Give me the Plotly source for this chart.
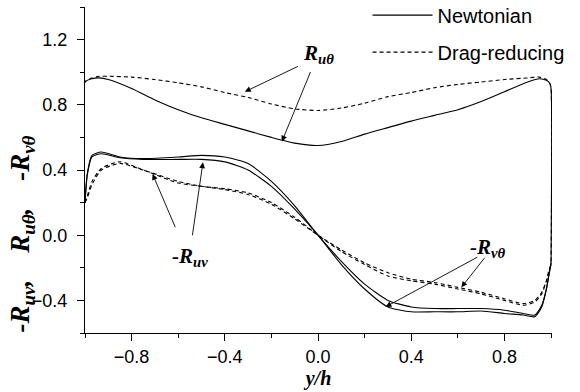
import plotly.graph_objects as go

# ---- data ----
x_low = [-1.0, -0.99, -0.97, -0.93, -0.85, -0.75, -0.6, -0.5, -0.4, -0.3, -0.2, -0.1, 0.0,
         0.1, 0.2, 0.3, 0.4, 0.5, 0.6, 0.7, 0.8, 0.88, 0.93, 0.96, 0.98, 0.99, 1.0]
ruv_newt = [0.20, 0.38, 0.49, 0.51, 0.48, 0.47, 0.48, 0.49, 0.48, 0.44, 0.33, 0.18, 0.0,
            -0.16, -0.30, -0.40, -0.44, -0.45, -0.45, -0.45, -0.46, -0.48, -0.49, -0.43, -0.33, -0.25, -0.17]
rvt_newt = [0.20, 0.37, 0.48, 0.50, 0.475, 0.465, 0.465, 0.465, 0.45, 0.40, 0.30, 0.16, 0.0,
            -0.18, -0.33, -0.44, -0.47, -0.47, -0.47, -0.465, -0.48, -0.49, -0.50, -0.44, -0.33, -0.25, -0.17]
ruv_drag = [0.20, 0.24, 0.33, 0.41, 0.45, 0.40, 0.32, 0.30, 0.28, 0.25, 0.19, 0.10, 0.0,
            -0.09, -0.17, -0.23, -0.27, -0.29, -0.32, -0.35, -0.39, -0.42, -0.40, -0.35, -0.28, -0.23, -0.18]
rvt_drag = [0.20, 0.23, 0.31, 0.40, 0.44, 0.40, 0.33, 0.30, 0.285, 0.26, 0.20, 0.11, 0.0,
            -0.10, -0.18, -0.25, -0.28, -0.30, -0.33, -0.36, -0.40, -0.43, -0.41, -0.36, -0.28, -0.22, -0.18]

x_top = [-1.0, -1.0, -0.97, -0.94, -0.9, -0.8, -0.7, -0.6, -0.5, -0.4, -0.3, -0.2, -0.1, 0.0,
         0.1, 0.2, 0.3, 0.4, 0.5, 0.6, 0.7, 0.8, 0.9, 0.95, 0.98, 0.995, 1.0, 1.0]
rut_newt = [0.20, 0.94, 0.96, 0.965, 0.955, 0.90, 0.83, 0.77, 0.72, 0.68, 0.64, 0.60, 0.565, 0.55,
            0.575, 0.62, 0.66, 0.70, 0.735, 0.77, 0.82, 0.88, 0.94, 0.96, 0.95, 0.93, 0.90, -0.17]
rut_drag = [0.20, 0.94, 0.965, 0.975, 0.975, 0.97, 0.955, 0.935, 0.91, 0.875, 0.845, 0.805, 0.775, 0.765,
            0.78, 0.81, 0.85, 0.875, 0.905, 0.925, 0.94, 0.955, 0.965, 0.97, 0.955, 0.93, 0.90, -0.18]

x_ticks = [-0.8, -0.4, 0.0, 0.4, 0.8]
y_ticks = [-0.4, 0.0, 0.4, 0.8, 1.2]

SOLID = dict(color="black", width=1.1, shape="spline", smoothing=0.6)
DASH = dict(color="black", width=1.1, dash="4px,3px", shape="spline", smoothing=0.6)

fig = go.Figure()
fig.add_trace(go.Scatter(x=x_top, y=rut_newt, mode="lines", line=SOLID, name="Newtonian",
                         legendgroup="N", showlegend=True))
fig.add_trace(go.Scatter(x=x_top, y=rut_drag, mode="lines", line=DASH, name="Drag-reducing",
                         legendgroup="D", showlegend=True))
fig.add_trace(go.Scatter(x=x_low, y=ruv_newt, mode="lines", line=SOLID, legendgroup="N", showlegend=False))
fig.add_trace(go.Scatter(x=x_low, y=rvt_newt, mode="lines", line=SOLID, legendgroup="N", showlegend=False))
fig.add_trace(go.Scatter(x=x_low, y=ruv_drag, mode="lines", line=DASH, legendgroup="D", showlegend=False))
fig.add_trace(go.Scatter(x=x_low, y=rvt_drag, mode="lines", line=DASH, legendgroup="D", showlegend=False))

SERIF = "Liberation Serif, Times New Roman, serif"
SANS = "Liberation Sans, Arial, sans-serif"

def arrow(tip, tail):
    fig.add_annotation(x=tip[0], y=tip[1], ax=tail[0], ay=tail[1], xref="x", yref="y",
                       axref="x", ayref="y", text="", showarrow=True, arrowhead=2,
                       arrowsize=1.3, arrowwidth=0.9, arrowcolor="black", standoff=0)

def label(x, y, txt):
    fig.add_annotation(x=x, y=y, xref="x", yref="y", text=txt, showarrow=False,
                       font=dict(family=SERIF, size=21, color="black"))

# R_u theta
label(0.0, 1.11, "<b><i>R<sub>uθ</sub></i></b>")
arrow((-0.314, 0.88), (-0.08, 1.04))
arrow((-0.155, 0.575), (-0.03, 1.01))
# -R_uv
label(-0.55, -0.135, "<b><i>-R<sub>uv</sub></i></b>")
arrow((-0.71, 0.375), (-0.61, 0.04))
arrow((-0.494, 0.447), (-0.54, -0.01))
# -R_v theta
label(0.73, -0.08, "<b><i>-R<sub>vθ</sub></i></b>")
arrow((0.29, -0.44), (0.69, -0.13))
arrow((0.615, -0.32), (0.72, -0.13))

# y-axis title
SP = "&nbsp;" * 4
fig.add_annotation(x=-0.135, y=0.305, xref="paper", yref="paper", textangle=-90,
                   xanchor="center", yanchor="middle",
                   text="<b><i>-R<sub>uv</sub>," + SP + "R<sub>uθ</sub>," + SP + "-R<sub>vθ</sub></i></b>",
                   showarrow=False, font=dict(family=SERIF, size=27, color="black"))

fig.update_layout(
    width=580, height=392,
    margin=dict(l=85, r=28, t=7, b=59, autoexpand=False),
    plot_bgcolor="white", paper_bgcolor="white",
    font=dict(family=SANS, size=18, color="black"),
    legend=dict(x=0.605, y=1.035, xanchor="left", yanchor="top", bgcolor="rgba(0,0,0,0)",
                itemwidth=60, tracegroupgap=8, font=dict(family=SANS, size=20)),
    xaxis=dict(range=[-1.0, 1.004], tickvals=x_ticks, tickformat=".1f", ticks="outside",
               ticklen=7, tickwidth=1, tickcolor="black", showgrid=False, zeroline=False,
               showline=True, linecolor="black", linewidth=1.2,
               minor=dict(tickvals=[-1.0, -0.6, -0.2, 0.2, 0.6, 1.0], ticks="outside", ticklen=4,
                          tickcolor="black", tickwidth=1),
               title=dict(text="<b><i>y/h</i></b>", font=dict(family=SERIF, size=20), standoff=4)),
    yaxis=dict(range=[-0.6, 1.4], tickvals=y_ticks, tickformat=".1f", ticks="outside",
               ticklen=7, tickwidth=1, tickcolor="black", showgrid=False, zeroline=False,
               showline=True, linecolor="black", linewidth=1.2, ticklabelstandoff=6,
               minor=dict(tickvals=[-0.6, -0.2, 0.2, 0.6, 1.0, 1.4], ticks="outside", ticklen=4,
                          tickcolor="black", tickwidth=1)),
)

fig.write_html("out.html")
